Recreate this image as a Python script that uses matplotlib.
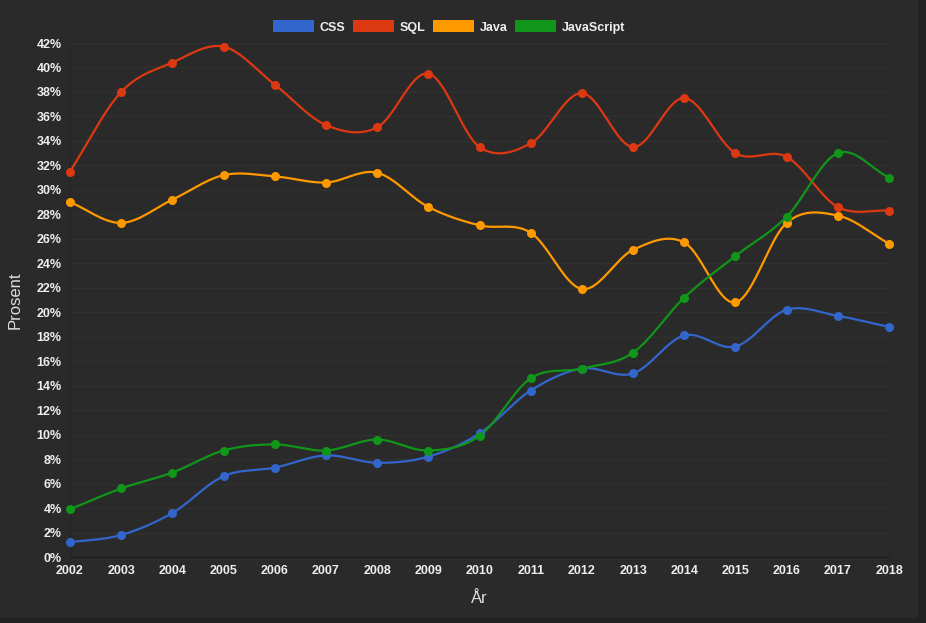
import numpy as np
import matplotlib
matplotlib.use("Agg")
import matplotlib.pyplot as plt
import matplotlib.ticker as ticker
from matplotlib.patches import Patch, Rectangle

plt.rcParams["font.family"] = ["Liberation Sans", "DejaVu Sans"]

years = list(range(2002, 2019))
css = [1.2, 1.8, 3.6, 6.6, 7.3, 8.3, 7.7, 8.2, 10.1, 13.6, 15.4, 15.0, 18.1, 17.2, 20.2, 19.7, 18.8]
sql = [31.5, 38.0, 40.4, 41.7, 38.6, 35.3, 35.1, 39.5, 33.5, 33.8, 37.9, 33.5, 37.5, 33.0, 32.7, 28.6, 28.3]
java = [29.0, 27.3, 29.2, 31.2, 31.1, 30.6, 31.4, 28.6, 27.1, 26.5, 21.9, 25.1, 25.7, 20.8, 27.3, 27.9, 25.6]
javascript = [3.9, 5.6, 6.9, 8.7, 9.2, 8.7, 9.6, 8.7, 9.9, 14.6, 15.4, 16.7, 21.2, 24.6, 27.8, 33.0, 31.0]

series = [("CSS", css, "#3366cc"), ("SQL", sql, "#dc3912"),
          ("Java", java, "#ff9900"), ("JavaScript", javascript, "#109618")]


def smooth(x, y, steps=24):
    # Catmull-Rom spline through the points, for a curved line like the original
    x = np.asarray(x, float)
    y = np.asarray(y, float)
    px = np.concatenate([[2 * x[0] - x[1]], x, [2 * x[-1] - x[-2]]])
    py = np.concatenate([[2 * y[0] - y[1]], y, [2 * y[-1] - y[-2]]])
    xs, ys = [], []
    t = np.linspace(0, 1, steps, endpoint=False)
    for i in range(1, len(px) - 2):
        for arr, out in ((px, xs), (py, ys)):
            p0, p1, p2, p3 = arr[i - 1], arr[i], arr[i + 1], arr[i + 2]
            out.extend(0.5 * (2 * p1 + (-p0 + p2) * t
                              + (2 * p0 - 5 * p1 + 4 * p2 - p3) * t ** 2
                              + (-p0 + 3 * p1 - 3 * p2 + p3) * t ** 3))
    xs.append(x[-1])
    ys.append(y[-1])
    return xs, ys


fig = plt.figure(figsize=(9.26, 6.23), dpi=100, facecolor="#222222")
fig.patches.append(Rectangle((0, 1 - 618 / 623), 918 / 926, 618 / 623,
                             transform=fig.transFigure, facecolor="#2a2a2a",
                             edgecolor="none", zorder=-10))
ax = fig.add_axes([70 / 926, 1 - 557 / 623, 819 / 926, 514 / 623])
ax.set_facecolor("#2a2a2a")
ax.set_zorder(1)

for name, vals, color in series:
    sx, sy = smooth(years, vals)
    ax.plot(sx, sy, color=color, lw=1.6, zorder=3, solid_capstyle="round", clip_on=False)
    ax.plot(years, vals, "o", color=color, ms=6.5, zorder=4, markeredgewidth=0, clip_on=False)

ax.set_xlim(2002, 2018)
ax.set_ylim(0, 42)
ax.set_xticks(years)
ax.set_yticks(range(0, 43, 2))
ax.yaxis.set_major_formatter(ticker.FuncFormatter(lambda v, p: f"{int(v)}%"))
ax.tick_params(length=0, colors="#eeeeee", labelsize=9, pad=6)
for lab in ax.get_xticklabels() + ax.get_yticklabels():
    lab.set_fontweight("bold")
ax.grid(axis="y", color="#313131", lw=1)
for s in ["top", "right"]:
    ax.spines[s].set_visible(False)
ax.spines["bottom"].set_color("#1c1c1c")
ax.spines["left"].set_color("#262626")
ax.set_axisbelow(True)

ax.set_xlabel("År", color="#dddddd", fontsize=12, labelpad=10)
ax.set_ylabel("Prosent", color="#dddddd", fontsize=12, labelpad=10)

handles = [Patch(facecolor=c, edgecolor="none", label=n) for n, _, c in series]
leg = fig.legend(handles=handles, loc="center", bbox_to_anchor=(449 / 926, 1 - 27 / 623),
                 ncol=4, frameon=False, handlelength=3.3, handleheight=1.1,
                 handletextpad=0.45, columnspacing=0.6, fontsize=9)
for t in leg.get_texts():
    t.set_color("#eeeeee")
    t.set_fontweight("bold")

fig.savefig("out.png", dpi=100, facecolor=fig.get_facecolor())
